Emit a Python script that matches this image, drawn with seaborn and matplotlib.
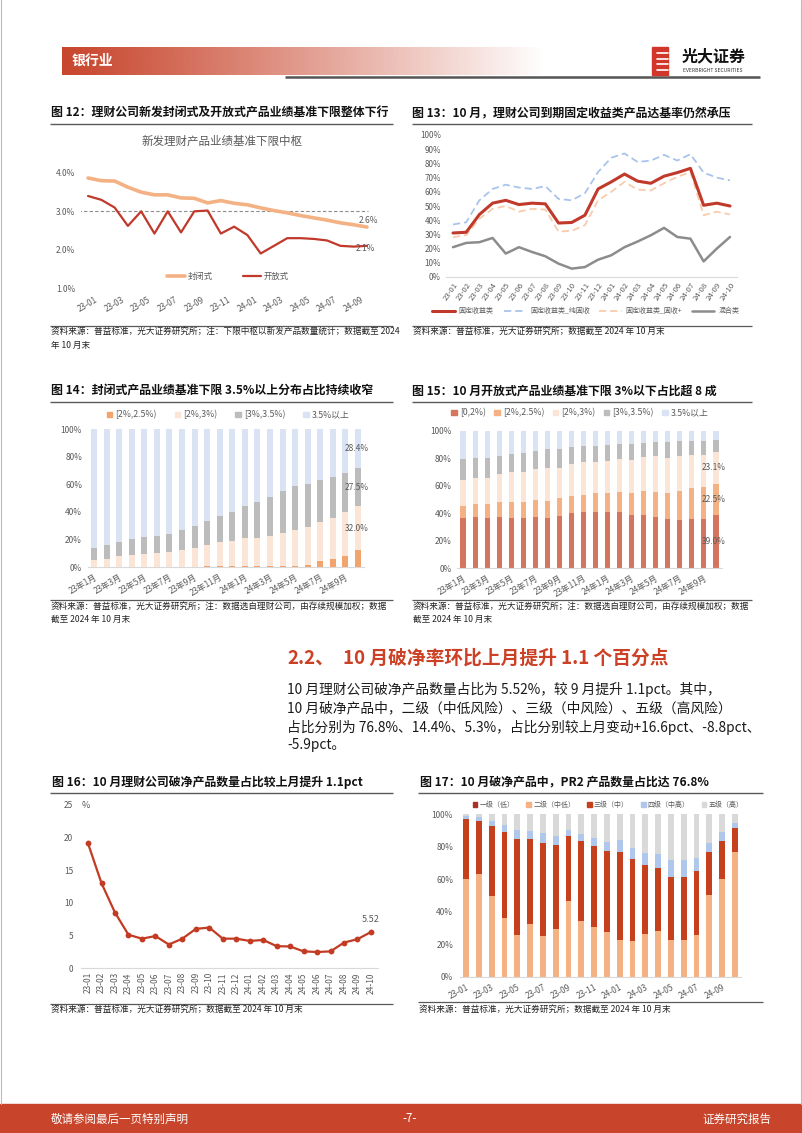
import numpy as np
import pandas as pd
import matplotlib
matplotlib.use("Agg")
import matplotlib.pyplot as plt
import seaborn as sns
from matplotlib.lines import Line2D
from matplotlib.patches import Patch, Rectangle

sns.set_style("white")
plt.rcParams['font.family'] = ['Noto Sans CJK SC', 'DejaVu Sans']
plt.rcParams['axes.unicode_minus'] = False

W, H = 802, 1133

# ------------------------------------------------------------------ data
months = ["23-01", "23-02", "23-03", "23-04", "23-05", "23-06", "23-07", "23-08",
          "23-09", "23-10", "23-11", "23-12", "24-01", "24-02", "24-03", "24-04",
          "24-05", "24-06", "24-07", "24-08", "24-09", "24-10"]
months_cn = ["23年1月", "23年2月", "23年3月", "23年4月", "23年5月", "23年6月", "23年7月",
             "23年8月", "23年9月", "23年10月", "23年11月", "23年12月", "24年1月", "24年2月",
             "24年3月", "24年4月", "24年5月", "24年6月", "24年7月", "24年8月", "24年9月",
             "24年10月"]

# Fig 12: 新发理财产品业绩基准下限中枢 (%)
closed_rate = [3.87, 3.80, 3.79, 3.63, 3.50, 3.43, 3.43, 3.35, 3.34, 3.22, 3.28, 3.21,
               3.17, 3.09, 3.02, 2.96, 2.89, 2.83, 2.77, 2.70, 2.65, 2.59]
open_rate = [3.40, 3.30, 3.10, 2.62, 3.00, 2.42, 3.00, 2.45, 3.00, 3.02, 2.42, 2.60,
             2.38, 1.90, 2.10, 2.30, 2.30, 2.28, 2.24, 2.10, 2.08, 2.10]
ref_rate = 3.0
fig12_yticks = [1.0, 2.0, 3.0, 4.0]

# Fig 13: 到期产品达基率 (%)
fi_all = [31, 31.5, 44, 52, 54, 51, 52, 51.5, 38, 38.4, 43.5, 62, 67, 72.5, 67.5, 66,
          71, 73.5, 76.5, 50.5, 52, 50]
fi_pure = [37, 38.5, 54, 62, 65, 63, 62, 64, 55, 54, 59, 74, 84, 87, 81, 82, 86, 82,
           86.5, 73.5, 70, 68]
fi_plus = [28, 29.5, 41, 48, 50, 46, 48, 47.5, 32, 32.5, 36.5, 54, 60, 67, 61.5, 61,
           66, 70.5, 74, 43.5, 46, 44]
mixed = [21, 24, 24.5, 27.5, 16.5, 21, 17.6, 14.6, 9.4, 5.9, 7, 12.2, 15.3, 21, 25,
         29.4, 34.6, 28.2, 27, 11, 20, 28.2]
fig13_names = ["固定收益类", "固定收益类_纯固收", "固定收益类_固收+", "混合类"]

# Fig 14: 封闭式产品业绩基准下限分布 (%)
f14_names = ["[2%,2.5%)", "[2%,3%)", "[3%,3.5%)", "3.5%以上"]
f14_a = [0, 0, 0, 0, 0, 0, 0, 0, 0, 0.7, 0.7, 0.9, 0.9, 0.8, 0.7, 0.6, 0.9, 1.8, 4.3,
         5.6, 8.2, 12.1]
f14_b = [5.3, 5.6, 7.7, 8.5, 9.7, 10.1, 11.1, 12.3, 14.0, 15.2, 17.2, 17.9, 19.9, 20.0,
         21.5, 23.8, 26.1, 27.4, 28.6, 29.7, 31.4, 32.0]
f14_c = [8.2, 10.3, 10.7, 11.8, 11.8, 12.4, 12.8, 14.7, 16.0, 17.4, 18.8, 20.8, 23.6,
         26.1, 28.8, 30.6, 31.5, 31.2, 30.1, 29.9, 28.8, 27.5]
f14_d = [86.5, 84.1, 81.6, 79.7, 78.5, 77.5, 76.1, 73.0, 70.0, 66.7, 63.3, 60.4, 55.6,
         53.1, 49.0, 45.0, 41.5, 39.6, 37.0, 34.8, 31.6, 28.4]

# Fig 15: 开放式产品业绩基准下限分布 (%)
f15_names = ["[0,2%)", "[2%,2.5%)", "[2%,3%)", "[3%,3.5%)", "3.5%以上"]
f15_a = [36.3, 37.0, 36.3, 37.2, 36.7, 36.3, 37.0, 36.3, 38.2, 40.1, 40.6, 41.1, 40.9,
         40.6, 38.9, 38.9, 37.5, 35.8, 35.0, 35.5, 36.0, 39.0]
f15_b = [9.0, 9.7, 10.2, 10.7, 11.5, 11.9, 12.4, 12.6, 12.7, 12.7, 12.9, 13.4, 13.6,
         14.9, 15.6, 17.1, 18.0, 18.7, 21.4, 23.1, 23.1, 22.5]
f15_c = [18.9, 19.2, 18.9, 20.5, 21.9, 21.9, 23.1, 23.8, 22.3, 23.1, 24.1, 23.1, 23.8,
         24.3, 24.6, 25.0, 26.3, 26.0, 25.6, 24.1, 23.4, 23.1]
f15_d = [15.4, 14.1, 14.6, 13.6, 13.1, 13.6, 13.1, 13.9, 13.7, 12.7, 11.4, 11.7, 11.7,
         10.7, 11.2, 10.2, 9.9, 11.7, 10.7, 10.2, 10.4, 9.1]
f15_e = [20.4, 20.0, 20.0, 18.0, 16.8, 16.3, 14.4, 13.4, 13.1, 11.4, 11.0, 10.7, 10.0,
         9.5, 9.7, 8.8, 8.3, 7.8, 7.3, 7.1, 7.1, 6.3]

# Fig 16: 破净产品数量占比 (%)
break_rate = [19.1, 13.0, 8.5, 5.1, 4.5, 4.9, 3.6, 4.5, 6.0, 6.2, 4.5, 4.5, 4.15, 4.3,
              3.35, 3.3, 2.55, 2.45, 2.55, 3.9, 4.42, 5.52]

# Fig 17: 破净产品风险等级分布 (%)
f17_names = ["一级（低）", "二级（中低）", "三级（中）", "四级（中高）", "五级（高）"]
f17_a = [0] * 22
f17_b = [60.1, 63.0, 49.9, 36.2, 26.0, 32.7, 25.4, 29.4, 46.4, 34.2, 30.7, 27.6, 22.9,
         22.3, 26.4, 28.0, 22.5, 22.5, 25.6, 50.3, 60.1, 76.8]
f17_c = [36.8, 32.9, 42.9, 52.6, 58.9, 52.0, 56.8, 51.8, 39.9, 49.4, 49.5, 49.5, 53.8,
         50.1, 42.1, 39.1, 38.8, 39.1, 39.4, 26.6, 23.5, 14.4]
f17_d = [1.9, 2.5, 3.1, 4.7, 5.5, 5.1, 6.3, 5.1, 3.9, 4.1, 5.1, 5.7, 7.1, 6.7, 7.6, 8.6,
         10.7, 10.0, 8.0, 5.3, 5.4, 3.5]
f17_e = [1.2, 1.6, 4.1, 6.5, 9.6, 10.2, 11.5, 13.7, 9.8, 12.3, 14.7, 17.2, 16.2, 20.9,
         23.9, 24.3, 28.0, 28.4, 27.0, 17.8, 11.0, 5.3]

# ------------------------------------------------------------------ figure
fig = plt.figure(figsize=(W / 100, H / 100), dpi=100)
bg = fig.add_axes([0, 0, 1, 1], zorder=0)
bg.axis('off')

TXT = '#595959'
RED = '#C8452C'


def add_ax(x0, y0, x1, y1):
    ax = fig.add_axes([x0 / W, 1 - y1 / H, (x1 - x0) / W, (y1 - y0) / H], zorder=2)
    ax.patch.set_alpha(0)
    return ax


def t(x, y, s, **kw):
    kw.setdefault('va', 'center')
    bg.text(x, y, s, **kw)


def hline(x0, x1, y, color='#595959', lw=1.0):
    bg.plot([x0, x1], [y, y], color=color, lw=lw, solid_capstyle='butt')


def style(ax, ypad_px, size=6):
    for s in ax.spines.values():
        s.set_visible(False)
    ax.tick_params(axis='both', length=0, labelsize=size, colors=TXT)
    ax.tick_params(axis='y', pad=ypad_px * 0.72)
    ax.set_xlabel('')
    ax.set_ylabel('')
    ax.grid(False)


def legend(handles, labels, cx, cy, size, **kw):
    fig.legend(handles, labels, loc='center', bbox_to_anchor=(cx / W, 1 - cy / H),
               ncol=len(labels), frameon=False, fontsize=size, labelcolor=TXT, **kw)


def stacked(ax, cats, layers, colors, width):
    cum = np.cumsum(np.array(layers, dtype=float), axis=0)
    for k in range(len(layers) - 1, -1, -1):
        df = pd.DataFrame({'cat': cats, 'v': cum[k]})
        sns.barplot(data=df, x='cat', y='v', order=cats, color=colors[k], width=width,
                    saturation=1, errorbar=None, ax=ax, linewidth=0)
    return cum


# ------------------------------------------------------------------ header / footer
grad = np.zeros((1, 400, 4))
grad[0, :, :3] = matplotlib.colors.to_rgb(RED)
tt = np.linspace(0, 1, 400)
grad[0, :, 3] = np.clip(1 - tt ** 1.1, 0, 1)
bg.imshow(grad, extent=[62, 545, 75, 47], aspect='auto', interpolation='bilinear', zorder=1)
t(72, 61, "银行业", color='white', fontsize=10, fontweight='bold', zorder=3)
hline(285, 760, 77, color='#555555', lw=1.8)
bg.add_patch(Rectangle((652, 47), 16, 28, color='#D2352A', zorder=3))
for yy in [53, 58.5, 64, 69.5]:
    bg.plot([657, 668], [yy, yy], color='white', lw=1.2, zorder=4)
t(682, 56, "光大证券", color='#111111', fontsize=11.5, fontweight='bold')
t(683, 70.5, "EVERBRIGHT SECURITIES", color='#333333', fontsize=3.6)

bg.add_patch(Rectangle((0, 1104), W, 29, color=RED, zorder=1))
t(51, 1119, "敬请参阅最后一页特别声明", color='white', fontsize=8.3)
t(410, 1119, "-7-", color='white', fontsize=8.3, ha='center')
t(771, 1119, "证券研究报告", color='white', fontsize=8.3, ha='right')
bg.plot([0.6, 0.6], [0, 1104], color='#BBBBBB', lw=0.8)
bg.plot([801.4, 801.4], [0, 1104], color='#BBBBBB', lw=0.8)

# ------------------------------------------------------------------ titles, sources
TS = 8.6
SS = 6.2
t(51, 113, "图 12：理财公司新发封闭式及开放式产品业绩基准下限整体下行", fontsize=TS, fontweight='bold', color='#111111')
hline(50, 393, 123.5)
t(412, 113, "图 13：10 月，理财公司到期固定收益类产品达基率仍然承压", fontsize=TS, fontweight='bold', color='#111111')
hline(412, 752, 123.5)
hline(50, 393, 325.5, lw=0.9)
t(51, 331, "资料来源：普益标准，光大证券研究所；注：下限中枢以新发产品数量统计；数据截至 2024", fontsize=SS, color='#222222')
t(51, 345, "年 10 月末", fontsize=SS, color='#222222')
hline(412, 752, 325.5, lw=0.9)
t(413, 331, "资料来源：普益标准，光大证券研究所；数据截至 2024 年 10 月末", fontsize=SS, color='#222222')

t(51, 391, "图 14：封闭式产品业绩基准下限 3.5%以上分布占比持续收窄", fontsize=TS, fontweight='bold', color='#111111')
hline(50, 393, 402)
t(412, 391, "图 15：10 月开放式产品业绩基准下限 3%以下占比超 8 成", fontsize=TS, fontweight='bold', color='#111111')
hline(412, 752, 402)
for x0, x1 in [(50, 393), (412, 752)]:
    hline(x0, x1, 600, lw=0.9)
    t(x0 + 1, 606, "资料来源：普益标准，光大证券研究所；注：数据选自理财公司，由存续规模加权；数据", fontsize=SS, color='#222222')
    t(x0 + 1, 619, "截至 2024 年 10 月末", fontsize=SS, color='#222222')

HRED = '#CC4125'
t(287, 658, "2.2、", fontsize=13.5, fontweight='bold', color=HRED)
t(343, 658, "10 月破净率环比上月提升 1.1 个百分点", fontsize=13.5, fontweight='bold', color=HRED)
BS = 9.9
t(287, 689, "10 月理财公司破净产品数量占比为 5.52%，较 9 月提升 1.1pct。其中，", fontsize=BS, color='#1a1a1a')
t(287, 708, "10 月破净产品中，二级（中低风险）、三级（中风险）、五级（高风险）", fontsize=BS, color='#1a1a1a')
t(287, 727, "占比分别为 76.8%、14.4%、5.3%，占比分别较上月变动+16.6pct、-8.8pct、", fontsize=BS, color='#1a1a1a')
t(287, 745, "-5.9pct。", fontsize=BS, color='#1a1a1a')

t(52, 782, "图 16：10 月理财公司破净产品数量占比较上月提升 1.1pct", fontsize=TS, fontweight='bold', color='#111111')
hline(50, 393, 793)
t(420, 782, "图 17：10 月破净产品中，PR2 产品数量占比达 76.8%", fontsize=TS, fontweight='bold', color='#111111')
hline(418, 763, 793)
hline(50, 393, 1004, lw=0.9)
t(51, 1009, "资料来源：普益标准，光大证券研究所；数据截至 2024 年 10 月末", fontsize=SS, color='#222222')
hline(418, 763, 1002, lw=0.9)
t(419, 1009, "资料来源：普益标准，光大证券研究所；数据截至 2024 年 10 月末", fontsize=SS, color='#222222')

bg.set_xlim(0, W)
bg.set_ylim(H, 0)

x = np.arange(len(months))

# ------------------------------------------------------------------ Fig 12
ax = add_ax(81.4, 173, 373.6, 288)
C_CLOSED, C_OPEN = '#F4B183', '#C0392B'
ax.axhline(ref_rate, xmin=-0.01, xmax=0.98, color='#8C8C8C', lw=0.8, ls=(0, (3, 2)))
sns.lineplot(x=x, y=closed_rate, color=C_CLOSED, lw=2.6, ax=ax)
sns.lineplot(x=x, y=open_rate, color=C_OPEN, lw=1.6, ax=ax)
ax.set_xlim(-0.5, len(months) - 0.5)
ax.set_ylim(1.0, 4.0)
ax.set_yticks(fig12_yticks)
ax.set_yticklabels([f"{v:.1f}%" for v in fig12_yticks])
style(ax, 6.4)
ax.set_xticks(x[::2])
ax.set_xticklabels(months[::2], rotation=30, ha='center')
ax.tick_params(axis='x', pad=5)
ax.text(x[-1] + 0.1, closed_rate[-1] + 0.17, f"{closed_rate[-1]:.1f}%", fontsize=6, color=TXT, ha='center', va='center')
ax.text(x[-1] - 0.1, open_rate[-1] - 0.07, f"{open_rate[-1]:.1f}%", fontsize=6, color=TXT, ha='center', va='center')
t(222, 141, "新发理财产品业绩基准下限中枢", fontsize=8.3, color=TXT, ha='center')
legend([Line2D([], [], color=C_CLOSED, lw=2.6), Line2D([], [], color=C_OPEN, lw=1.6)],
       ["封闭式", "开放式"], 228, 276, 6, handlelength=2.2, handletextpad=0.3, columnspacing=3.6)

# ------------------------------------------------------------------ Fig 13
ax = add_ax(446.4, 135, 736.6, 277)
c13 = ['#C0392B', '#A9C4EB', '#F8CBAD', '#8C8C8C']
sns.lineplot(x=x, y=fi_pure, color=c13[1], lw=1.3, linestyle=(0, (4, 2.2)), ax=ax)
sns.lineplot(x=x, y=fi_plus, color=c13[2], lw=1.3, linestyle=(0, (4, 2.2)), ax=ax)
sns.lineplot(x=x, y=mixed, color=c13[3], lw=1.8, ax=ax)
sns.lineplot(x=x, y=fi_all, color=c13[0], lw=2.2, ax=ax)
ax.set_xlim(-0.5, len(months) - 0.5)
ax.set_ylim(0, 100)
yt13 = list(range(0, 101, 10))
ax.set_yticks(yt13)
ax.set_yticklabels([f"{v}%" for v in yt13])
style(ax, 5.4, size=5.8)
ax.spines['bottom'].set_visible(True)
ax.spines['bottom'].set_color('#D9D9D9')
ax.spines['bottom'].set_linewidth(0.8)
ax.set_xticks(x)
ax.set_xticklabels(months, rotation=55, ha='right', va='top', rotation_mode='anchor')
ax.set_xticks(np.arange(-0.5, len(months), 1), minor=True)
ax.tick_params(axis='x', which='minor', length=2.5, color='#D9D9D9')
ax.tick_params(axis='x', which='major', pad=3, labelsize=5.6)
legend([Line2D([], [], color=c13[0], lw=2.2),
        Line2D([], [], color=c13[1], lw=1.3, ls=(0, (4, 2.2))),
        Line2D([], [], color=c13[2], lw=1.3, ls=(0, (4, 2.2))),
        Line2D([], [], color=c13[3], lw=1.8)],
       fig13_names, 586, 311, 5.0, handlelength=3.2, handletextpad=0.6, columnspacing=1.4)

# ------------------------------------------------------------------ Fig 14
ax = add_ax(87.7, 429, 364.3, 567)
c14 = ['#F2A46E', '#FBE5D6', '#BCBCBC', '#DAE3F3']
cum14 = stacked(ax, months_cn, [f14_a, f14_b, f14_c, f14_d], c14, 0.48)
ax.set_ylim(0, 100)
yt = list(range(0, 101, 20))
ax.set_yticks(yt)
ax.set_yticklabels([f"{v}%" for v in yt])
style(ax, 5.7)
ax.spines['bottom'].set_visible(True)
ax.spines['bottom'].set_color('#D9D9D9')
ax.set_xticks(x[::2])
ax.set_xticklabels(months_cn[::2], rotation=30, ha='right', va='top', rotation_mode='anchor')
ax.tick_params(axis='x', pad=4)
last = len(months) - 1
for k, seg in enumerate([f14_b, f14_c, f14_d]):
    lo = cum14[k][last]
    ax.text(last - 0.1, lo + seg[last] / 2, f"{seg[last]:.1f}%", fontsize=6, color=TXT, ha='center', va='center')
legend([Patch(color=c) for c in c14], f14_names, 228, 415, 6.3,
       handlelength=0.6, handleheight=0.6, handletextpad=0.35, columnspacing=2.1)

# ------------------------------------------------------------------ Fig 15
ax = add_ax(457, 431, 722, 568)
c15 = ['#D6755F', '#F4B183', '#FBE5D6', '#BCBCBC', '#DAE3F3']
cum15 = stacked(ax, months_cn, [f15_a, f15_b, f15_c, f15_d, f15_e], c15, 0.42)
ax.set_ylim(0, 100)
ax.set_yticks(yt)
ax.set_yticklabels([f"{v}%" for v in yt])
style(ax, 5.2)
ax.spines['bottom'].set_visible(True)
ax.spines['bottom'].set_color('#D9D9D9')
ax.set_xticks(x[::2])
ax.set_xticklabels(months_cn[::2], rotation=30, ha='right', va='top', rotation_mode='anchor')
ax.tick_params(axis='x', pad=4)
for k, seg in enumerate([f15_a, f15_b, f15_c]):
    lo = 0 if k == 0 else cum15[k - 1][last]
    ax.text(last - 0.2, lo + seg[last] / 2, f"{seg[last]:.1f}%", fontsize=6, color=TXT, ha='center', va='center')
legend([Patch(color=c) for c in c15], f15_names, 580, 413, 6.3,
       handlelength=0.6, handleheight=0.6, handletextpad=0.35, columnspacing=1.0)

# ------------------------------------------------------------------ Fig 16
ax = add_ax(81.3, 805, 377.7, 968)
C16 = '#C23B22'
sns.lineplot(x=x, y=break_rate, color=C16, lw=1.6, marker='o', markersize=4.2,
             markeredgewidth=0, ax=ax)
ax.set_xlim(-0.5, len(months) - 0.5)
ax.set_ylim(0, 25)
yt16 = [0, 5, 10, 15, 20, 25]
ax.set_yticks(yt16)
ax.set_yticklabels([str(v) for v in yt16])
style(ax, 8)
ax.spines['bottom'].set_visible(True)
ax.spines['bottom'].set_color('#D9D9D9')
ax.set_xticks(x)
ax.set_xticklabels(months, rotation=90, ha='center', va='top')
ax.set_xticks(np.arange(-0.5, len(months), 1), minor=True)
ax.tick_params(axis='x', which='minor', length=2.5, color='#D9D9D9')
ax.tick_params(axis='x', which='major', pad=3)
ax.text(x[-1], break_rate[-1] + 1.9, f"{break_rate[-1]:.2f}", fontsize=6.5, color=TXT, ha='center', va='center')
t(82, 805, "%", fontsize=6.5, color=TXT)

# ------------------------------------------------------------------ Fig 17
ax = add_ax(459.6, 814, 741.4, 977)
c17 = ['#A93226', '#F4B183', '#C5401D', '#AFC7EA', '#D9D9D9']
stacked(ax, months, [f17_a, f17_b, f17_c, f17_d, f17_e], c17, 0.45)
ax.set_ylim(0, 100)
ax.set_yticks(yt)
ax.set_yticklabels([f"{v}%" for v in yt])
style(ax, 6.5)
ax.spines['bottom'].set_visible(True)
ax.spines['bottom'].set_color('#D9D9D9')
ax.set_xticks(x[::2])
ax.set_xticklabels(months[::2], rotation=28, ha='right', va='top', rotation_mode='anchor')
ax.tick_params(axis='x', pad=4)
legend([Patch(color=c) for c in c17], f17_names, 608, 805, 5.0,
       handlelength=0.7, handleheight=0.7, handletextpad=0.3, columnspacing=1.7)

fig.savefig("out.png", dpi=100)
